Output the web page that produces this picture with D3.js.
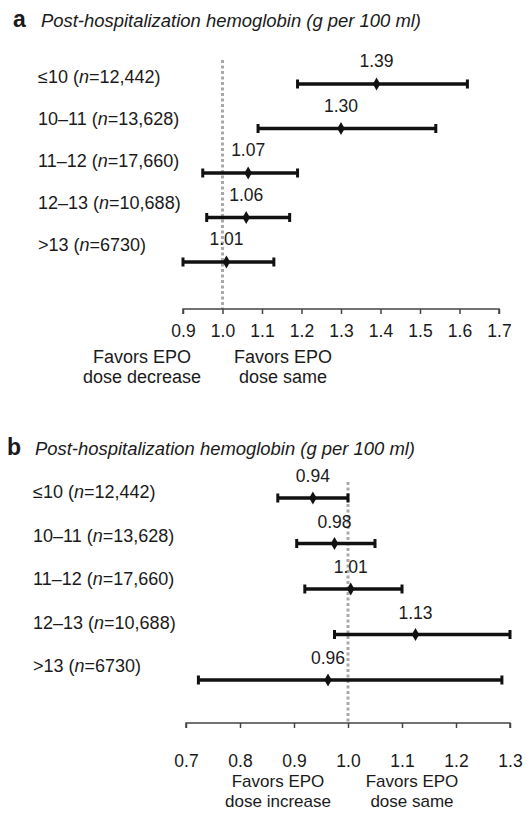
<!DOCTYPE html>
<html>
<head>
<meta charset="utf-8">
<script src="https://cdn.jsdelivr.net/npm/d3@7"></script>
<style>
  body { margin: 0; background: #fff; }
  text { font-family: "Liberation Sans", Arial, Helvetica, sans-serif; fill: #1a1a1a; }
</style>
</head>
<body>
<div id="chart"></div>
<script>
// shared categories
var groups = ["≤10", "10–11", "11–12", "12–13", ">13"];
var counts = ["12,442", "13,628", "17,660", "10,688", "6730"];
var title = "Post-hospitalization hemoglobin (g per 100 ml)";

// panel a: odds ratios with CI
var estA = [1.39, 1.30, 1.065, 1.06, 1.01];
var lowA = [1.19, 1.09, 0.95, 0.96, 0.90];
var highA = [1.62, 1.54, 1.19, 1.17, 1.13];
var textA = ["1.39", "1.30", "1.07", "1.06", "1.01"];
var ticksA = [0.9, 1.0, 1.1, 1.2, 1.3, 1.4, 1.5, 1.6, 1.7];
var favorsA = [["Favors EPO", "dose decrease"], ["Favors EPO", "dose same"]];

// panel b
var estB = [0.935, 0.975, 1.005, 1.125, 0.963];
var lowB = [0.87, 0.905, 0.92, 0.975, 0.723];
var highB = [1.00, 1.05, 1.10, 1.30, 1.285];
var textB = ["0.94", "0.98", "1.01", "1.13", "0.96"];
var ticksB = [0.7, 0.8, 0.9, 1.0, 1.1, 1.2, 1.3];
var favorsB = [["Favors EPO", "dose increase"], ["Favors EPO", "dose same"]];

var svg = d3.select("#chart").append("svg")
    .attr("width", 527)
    .attr("height", 813);

function panel(p) {
    var g = svg.append("g");

    var x = d3.scaleLinear().domain(p.domain).range(p.xRange);
    var yBar = d3.scalePoint().domain(groups).range(p.barRange);
    var yLab = d3.scalePoint().domain(groups).range(p.labRange);

    // panel letter + title
    g.append("text")
        .attr("x", p.letterX).attr("y", p.titleY)
        .attr("font-size", "23px").attr("font-weight", "bold")
        .text(p.letter);
    g.append("text")
        .attr("x", p.titleX).attr("y", p.titleY)
        .attr("font-size", "18px").attr("font-style", "italic")
        .attr("textLength", 380).attr("lengthAdjust", "spacingAndGlyphs")
        .text(title);

    // row labels, n in italics
    var lab = g.selectAll(".rowlab").data(groups).enter().append("text")
        .attr("class", "rowlab")
        .attr("x", p.labX)
        .attr("y", function(d) { return yLab(d); })
        .attr("dy", "0.35em")
        .attr("font-size", "18px");
    lab.append("tspan").text(function(d) { return d + " ("; });
    lab.append("tspan").attr("font-style", "italic").text("n");
    lab.append("tspan").text(function(d, i) { return "=" + counts[i] + ")"; });

    // reference line at 1.0
    g.append("line")
        .attr("x1", x(1)).attr("x2", x(1))
        .attr("y1", p.refTop).attr("y2", p.axisY)
        .style("stroke", "#a9a9a9")
        .style("stroke-width", 3)
        .style("stroke-dasharray", "3,2.5");

    // CI bars
    var rows = g.selectAll(".ci").data(groups).enter().append("g")
        .attr("class", "ci")
        .attr("transform", function(d) { return "translate(0," + yBar(d) + ")"; });

    rows.append("line")
        .attr("x1", function(d, i) { return x(p.low[i]); })
        .attr("x2", function(d, i) { return x(p.high[i]); })
        .style("stroke", "#111").style("stroke-width", 3.4);

    rows.append("line") // left cap
        .attr("x1", function(d, i) { return x(p.low[i]); })
        .attr("x2", function(d, i) { return x(p.low[i]); })
        .attr("y1", -4.5).attr("y2", 4.5)
        .style("stroke", "#111").style("stroke-width", 3);

    rows.append("line") // right cap
        .attr("x1", function(d, i) { return x(p.high[i]); })
        .attr("x2", function(d, i) { return x(p.high[i]); })
        .attr("y1", -4.5).attr("y2", 4.5)
        .style("stroke", "#111").style("stroke-width", 3);

    rows.append("path")
        .attr("d", d3.symbol().type(d3.symbolDiamond).size(48))
        .attr("transform", function(d, i) { return "translate(" + x(p.est[i]) + ",0)"; })
        .style("fill", "#111");

    rows.append("text")
        .attr("x", function(d, i) { return x(p.est[i]); })
        .attr("y", p.valOffset)
        .attr("dy", "0.35em")
        .attr("text-anchor", "middle")
        .attr("font-size", "17.5px")
        .text(function(d, i) { return p.text[i]; });

    // axis
    var axis = d3.axisBottom(x)
        .tickValues(p.ticks)
        .tickFormat(d3.format(".1f"))
        .tickSize(5)
        .tickPadding(p.tickPad);
    var ax = g.append("g")
        .attr("transform", "translate(0," + p.axisY + ")")
        .call(axis);
    ax.select(".domain").attr("d", "M" + x(p.domain[0]) + ",5V0H" + x(p.domain[1]) + "V5")
        .style("stroke", "#444").style("stroke-width", 1.5);
    ax.selectAll(".tick line").style("stroke", "#444").style("stroke-width", 1.5);
    ax.selectAll(".tick text")
        .style("font-family", "'Liberation Sans', Arial, sans-serif")
        .style("font-size", "17.5px")
        .style("fill", "#1a1a1a");

    // favors captions, one text per line
    p.favors.forEach(function(lines, k) {
        lines.forEach(function(s, j) {
            g.append("text")
                .attr("x", p.favorsX[k])
                .attr("y", p.favorsY + j * p.favorsGap)
                .attr("text-anchor", "middle")
                .attr("font-size", p.favorsSize)
                .text(s);
        });
    });
}

panel({
    letter: "a", letterX: 13, titleX: 41, titleY: 27,
    domain: [0.9, 1.7], xRange: [183, 499], ticks: ticksA,
    est: estA, low: lowA, high: highA, text: textA,
    barRange: [84, 262], labRange: [77, 245], labX: 38, valOffset: -23,
    refTop: 60, axisY: 309, tickPad: 11,
    favors: favorsA, favorsX: [142, 283], favorsY: 363, favorsGap: 20, favorsSize: "18px"
});

panel({
    letter: "b", letterX: 7, titleX: 35, titleY: 455,
    domain: [0.7, 1.3], xRange: [186, 510], ticks: ticksB,
    est: estB, low: lowB, high: highB, text: textB,
    barRange: [498, 680], labRange: [492, 666], labX: 33, valOffset: -22,
    refTop: 482, axisY: 723, tickPad: 27,
    favors: favorsB, favorsX: [278, 412], favorsY: 787, favorsGap: 20, favorsSize: "17px"
});
</script>
</body>
</html>
